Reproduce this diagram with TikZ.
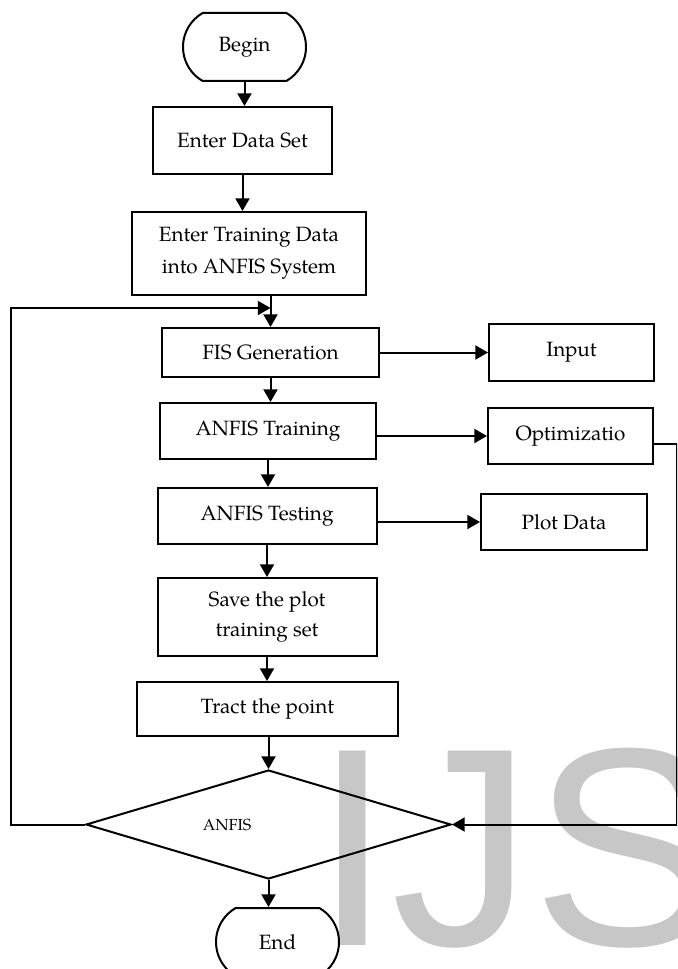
\documentclass[tikz,border=0pt]{standalone}
\usepackage{fontspec}
\setmainfont{TeX Gyre Pagella}
\newfontfamily\marksans{Liberation Sans}
\usetikzlibrary{arrows.meta,shapes.misc,shapes.geometric}

\begin{document}
\begin{tikzpicture}[x=0.75pt,y=-0.75pt,
  line width=1.5pt,
  every node/.style={font=\fontsize{15.5}{24}\selectfont, align=center, inner sep=0pt},
  procbox/.style={draw, rectangle},
  termbox/.style={draw, rounded rectangle, rounded rectangle arc length=120,
                  minimum width=92.25pt, minimum height=51pt},
  decbox/.style={draw, diamond, aspect=3.35, minimum width=273.75pt, minimum height=81.75pt},
  arr/.style={-{Triangle[length=9.5pt,width=10.5pt]}},
  wmtext/.style={text=black!22, font=\marksans\fontsize{212}{210}\selectfont, anchor=base west}
]
\useasboundingbox (0,0) rectangle (677,969);
\clip (0,0) rectangle (677,969);

% watermark lettering
\node[wmtext] (wm) at (312,945) {IJS};

% main column
\node[termbox] (begin) at (244.5,47) {\raisebox{-2pt}{Begin}};
\node[procbox, minimum width=134.25pt, minimum height=50.25pt] (data) at (242.5,140.5) {Enter Data Set};
\node[procbox, minimum width=175.5pt, minimum height=62.25pt] (train) at (249,253.5)
  {Enter Training Data\\into ANFIS System};
\node[procbox, minimum width=162.75pt, minimum height=36.75pt] (fis) at (270.5,352.5) {FIS Generation};
\node[procbox, minimum width=162.4pt, minimum height=42pt] (atrain) at (268,431) {ANFIS Training};
\node[procbox, minimum width=164.25pt, minimum height=42pt] (test) at (267,516) {ANFIS Testing};
\node[procbox, minimum width=164.25pt, minimum height=58.5pt,
      font=\fontsize{15.5}{23}\selectfont] (save) at (267,617) {Save the plot\\training set};
\node[procbox, minimum width=195.75pt, minimum height=40.5pt] (tract) at (267.5,709) {Tract the point};
\node[decbox, label={[xshift=-31pt, font=\fontsize{12}{14}\selectfont]center:ANFIS}] (dec) at (268.5,824.5) {};
\node[termbox] (end) at (277.5,942) {End};

% side column
\node[procbox, minimum width=123.75pt, minimum height=42.75pt] (input) at (571.5,352.5) {Input};
\node[procbox, minimum width=123.75pt, minimum height=42pt] (opt) at (570.5,436) {Optimizatio};
\node[procbox, minimum width=124.5pt, minimum height=42pt] (plot) at (564,522) {Plot Data};

% loop-back points
\coordinate (loopin) at (270.5,308);
\coordinate (lcorner) at (11,308);

% connectors
\draw[arr] (begin.south) -- (begin.south |- data.north);
\draw[arr] (data.south) -- (data.south |- train.north);
\draw[arr] (fis.north |- train.south) -- (fis.north);
\draw[arr] (fis.east) -- (input.west);
\draw[arr] (fis.south) -- (fis.south |- atrain.north);
\draw[arr] (atrain.east |- opt.west) -- (opt.west);
\draw[arr] (atrain.south) -- (atrain.south |- test.north);
\draw[arr] (test.east |- plot.west) -- (plot.west);
\draw[arr] (test.south) -- (test.south |- save.north);
\draw[arr] (save.south) -- (save.south |- tract.north);
\draw[arr] (dec.north |- tract.south) -- (dec.north);
\draw[arr] (dec.south) -- (dec.south |- end.north);
\draw[arr] (dec.west) -| (lcorner) -- (loopin);
\draw[arr] ([yshift=-6pt]opt.east) -- ++(23,0) |- (dec.east);
\end{tikzpicture}
\end{document}
